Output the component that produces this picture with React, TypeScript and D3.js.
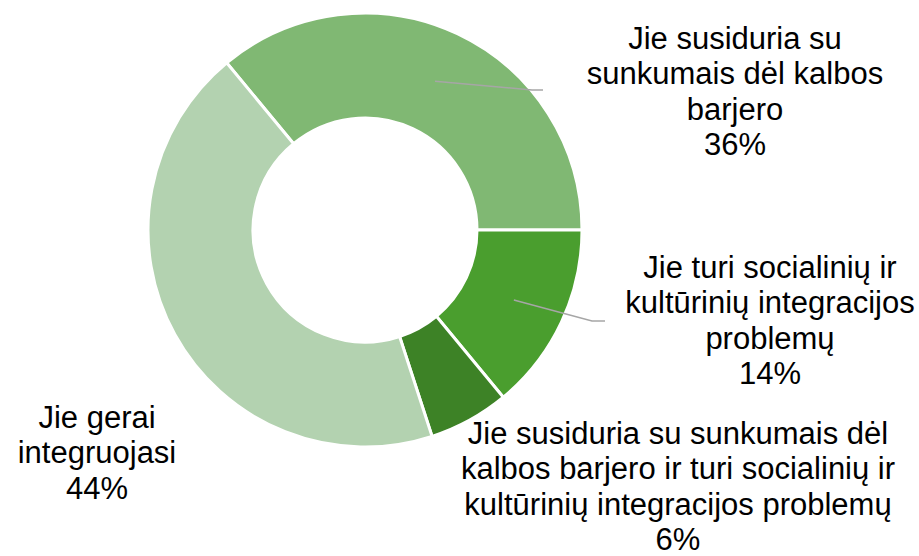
import React from "react";
import * as d3 from "d3";

const categories = [
  "Jie susiduria su sunkumais dėl kalbos barjero",
  "Jie turi socialinių ir kultūrinių integracijos problemų",
  "Jie susiduria su sunkumais dėl kalbos barjero ir turi socialinių ir kultūrinių integracijos problemų",
  "Jie gerai integruojasi",
];
const values = [36, 14, 6, 44];
const percentLabels = ["36%", "14%", "6%", "44%"];
const labelLines = [
  ["Jie susiduria su", "sunkumais dėl kalbos", "barjero"],
  ["Jie turi socialinių ir", "kultūrinių integracijos", "problemų"],
  ["Jie susiduria su sunkumais dėl", "kalbos barjero ir turi socialinių ir", "kultūrinių integracijos problemų"],
  ["Jie gerai", "integruojasi"],
];
const colors = ["#80B873", "#4A9E2E", "#3D8226", "#B3D2B0"];

const W = 919;
const H = 556;
const cx = 365;
const cy = 230;
const outerR = 217;
const innerR = 112;
const fontSize = 31;
const lineH = 35.3;

// label anchor (center x, first baseline y) and leader end points
const labelPos = [
  { x: 735, y: 49 },
  { x: 770, y: 278 },
  { x: 678, y: 444 },
  { x: 97, y: 428 },
];
const leaders: ({ bend: [number, number]; end: [number, number] } | null)[] = [
  { bend: [532, 90], end: [543, 90] },
  { bend: [592, 321], end: [605, 321] },
  null,
  null,
];

export default function App() {
  const total = d3.sum(values);
  const start = Math.PI / 2 - (2 * Math.PI * values[0]) / total;
  const pie = d3
    .pie<number>()
    .sort(null)
    .value((d) => d)
    .startAngle(start)
    .endAngle(start + 2 * Math.PI);
  const arcs = pie(values);
  const arc = d3.arc<d3.PieArcDatum<number>>().innerRadius(innerR).outerRadius(outerR);

  return (
    <svg
      width={W}
      height={H}
      style={{ position: "absolute", left: 0, top: 0, background: "#fff" }}
      fontFamily="'Liberation Sans', Arial, sans-serif"
    >
      <g transform={`translate(${cx},${cy})`}>
        {arcs.map((a, i) => (
          <path key={categories[i]} d={arc(a) || ""} fill={colors[i]} stroke="#fff" strokeWidth={3} />
        ))}
      </g>
      {arcs.map((a, i) => {
        const l = leaders[i];
        if (!l) return null;
        const [mx, my] = arc.centroid(a);
        const pts: [number, number][] = [[cx + mx, cy + my], l.bend, l.end];
        return (
          <path
            key={"l" + i}
            d={d3.line()(pts) || ""}
            fill="none"
            stroke="#A6A6A6"
            strokeWidth={1.5}
          />
        );
      })}
      {labelLines.map((lines, i) => {
        const all = [...lines, percentLabels[i]];
        return (
          <text
            key={"t" + i}
            x={labelPos[i].x}
            y={labelPos[i].y}
            fontSize={fontSize}
            textAnchor="middle"
            fill="#000"
          >
            {all.map((s, j) => (
              <tspan key={j} x={labelPos[i].x} y={labelPos[i].y + j * lineH}>
                {s}
              </tspan>
            ))}
          </text>
        );
      })}
    </svg>
  );
}
